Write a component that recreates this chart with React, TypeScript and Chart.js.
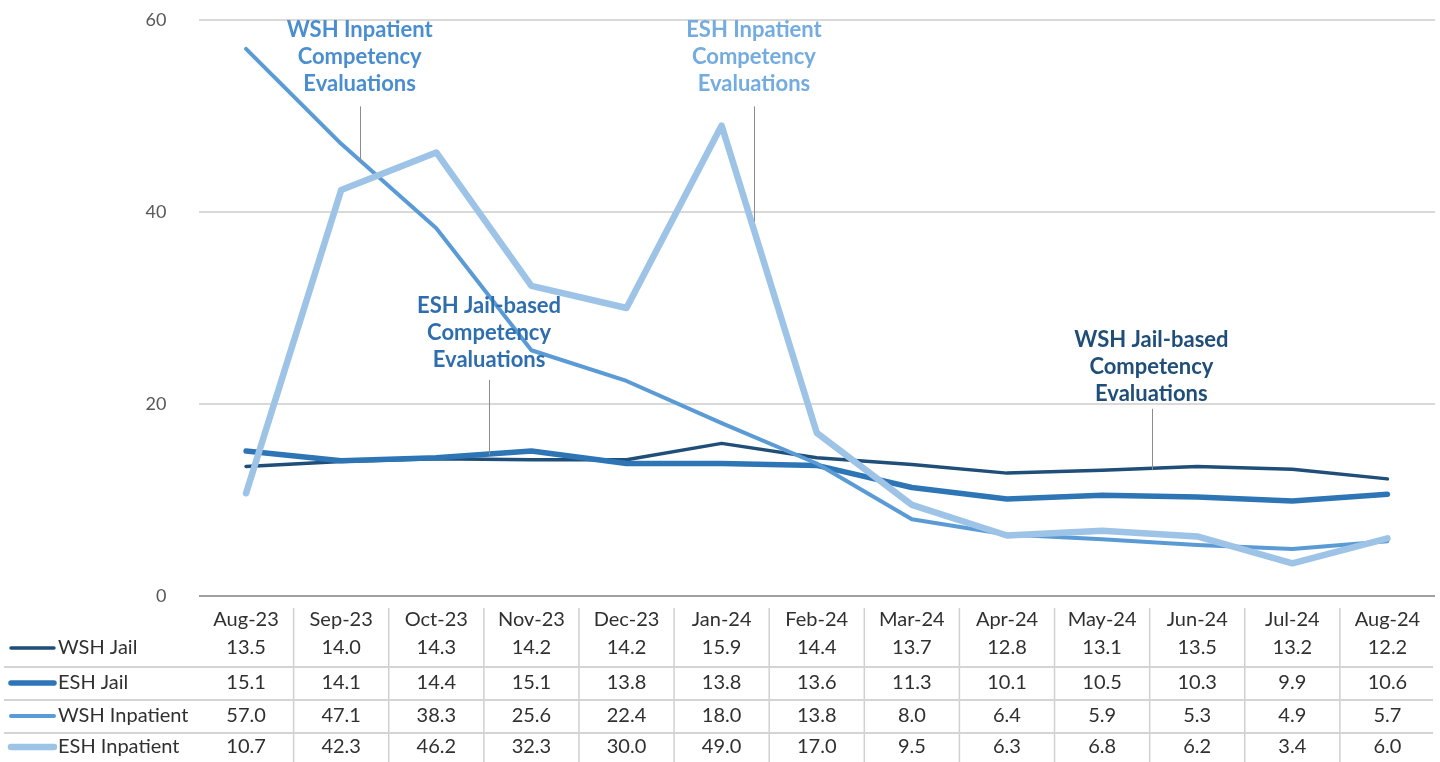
import React, { useEffect, useRef } from "react";
import { Chart, registerables } from "chart.js";

Chart.register(...registerables);

const categories = ["Aug-23", "Sep-23", "Oct-23", "Nov-23", "Dec-23", "Jan-24", "Feb-24", "Mar-24", "Apr-24", "May-24", "Jun-24", "Jul-24", "Aug-24"];
const wshJail = [13.5, 14.0, 14.3, 14.2, 14.2, 15.9, 14.4, 13.7, 12.8, 13.1, 13.5, 13.2, 12.2];
const eshJail = [15.1, 14.1, 14.4, 15.1, 13.8, 13.8, 13.6, 11.3, 10.1, 10.5, 10.3, 9.9, 10.6];
const wshInpatient = [57.0, 47.1, 38.3, 25.6, 22.4, 18.0, 13.8, 8.0, 6.4, 5.9, 5.3, 4.9, 5.7];
const eshInpatient = [10.7, 42.3, 46.2, 32.3, 30.0, 49.0, 17.0, 9.5, 6.3, 6.8, 6.2, 3.4, 6.0];
const seriesNames = ["WSH Jail", "ESH Jail", "WSH Inpatient", "ESH Inpatient"];
const seriesColors = ["#1F4E79", "#2E75B6", "#5B9BD5", "#9DC3E6"];
const seriesWidths = [3.5, 5.5, 4, 6.5];
const yTicks = [0, 20, 40, 60];

// callouts: text lines, center (category index), first baseline (value), leader from/to (value)
const calloutTexts = [
  ["WSH Inpatient", "Competency", "Evaluations"],
  ["ESH Inpatient", "Competency", "Evaluations"],
  ["ESH Jail-based", "Competency", "Evaluations"],
  ["WSH Jail-based", "Competency", "Evaluations"],
];
const calloutColors = ["#4A8ED0", "#74ACDF", "#2E6EAE", "#1F4E79"];
const calloutX = [1.194, 5.34, 2.555, 9.518];
const calloutLeaderX = [1.2, 5.34, 2.555, 9.52];
const calloutBaseline = [58.18, 58.18, 29.48, 25.94];
const calloutLeaderFrom = [51.0, 51.0, 22.5, 19.5];
const calloutLeaderTo = [45.2, 39.0, 14.7, 13.1];

const FONT = "Lato, 'Open Sans', sans-serif";

const tablePlugin = {
  id: "dataTable",
  afterDraw(chart: any) {
    const ctx = chart.ctx;
    const xs = chart.scales.x;
    const area = chart.chartArea;
    const b = area.bottom;
    ctx.save();
    ctx.strokeStyle = "#D0D0D0";
    ctx.lineWidth = 1.5;
    for (let i = 0; i < categories.length - 1; i++) {
      const x = (xs.getPixelForValue(i) + xs.getPixelForValue(i + 1)) / 2;
      ctx.beginPath();
      ctx.moveTo(x, b + 12);
      ctx.lineTo(x, chart.height);
      ctx.stroke();
    }
    const seps = [b + 71, b + 104, b + 137];
    ctx.strokeStyle = "#D4D4D4";
    ctx.lineWidth = 2;
    seps.forEach((y) => {
      ctx.beginPath();
      ctx.moveTo(4, y);
      ctx.lineTo(area.right - 2, y);
      ctx.stroke();
    });
    ctx.font = `20px ${FONT}`;
    ctx.fillStyle = "#303030";
    ctx.textAlign = "center";
    ctx.textBaseline = "middle";
    categories.forEach((c, i) => {
      ctx.fillText(c, xs.getPixelForValue(i), b + 24);
    });
    const rows = [wshJail, eshJail, wshInpatient, eshInpatient];
    const rowY = [b + 52, b + 87, b + 120, b + 151];
    rows.forEach((vals, r) => {
      const y = rowY[r];
      ctx.strokeStyle = seriesColors[r];
      ctx.lineWidth = seriesWidths[r];
      ctx.lineCap = "round";
      ctx.beginPath();
      ctx.moveTo(11, y);
      ctx.lineTo(54, y);
      ctx.stroke();
      ctx.fillStyle = "#303030";
      ctx.textAlign = "left";
      ctx.fillText(seriesNames[r], 58, y);
      ctx.textAlign = "center";
      vals.forEach((v, i) => {
        ctx.fillText(v.toFixed(1), xs.getPixelForValue(i), y);
      });
    });
    ctx.restore();
  },
};

const calloutPlugin = {
  id: "callouts",
  afterDatasetsDraw(chart: any) {
    const ctx = chart.ctx;
    const xs = chart.scales.x;
    const ys = chart.scales.y;
    ctx.save();
    calloutTexts.forEach((lines, k) => {
      const cx = xs.getPixelForValue(calloutX[k]);
      const by = ys.getPixelForValue(calloutBaseline[k]);
      ctx.font = `bold 22px ${FONT}`;
      ctx.fillStyle = calloutColors[k];
      ctx.textAlign = "center";
      ctx.textBaseline = "alphabetic";
      lines.forEach((t, j) => ctx.fillText(t, cx, by + j * 27));
      const lx = Math.round(xs.getPixelForValue(calloutLeaderX[k])) + 0.5;
      ctx.strokeStyle = "#8C8C8C";
      ctx.lineWidth = 1;
      ctx.beginPath();
      ctx.moveTo(lx, ys.getPixelForValue(calloutLeaderFrom[k]));
      ctx.lineTo(lx, ys.getPixelForValue(calloutLeaderTo[k]));
      ctx.stroke();
    });
    ctx.restore();
  },
};

export default function App() {
  const ref = useRef<HTMLCanvasElement | null>(null);
  useEffect(() => {
    if (!ref.current) return;
    const series = [wshJail, eshJail, wshInpatient, eshInpatient];
    const chart = new Chart(ref.current, {
      type: "line",
      data: {
        labels: categories,
        datasets: series.map((d, i) => ({
          label: seriesNames[i],
          data: d,
          borderColor: seriesColors[i],
          backgroundColor: seriesColors[i],
          borderWidth: seriesWidths[i],
          pointRadius: 0,
          tension: 0,
          borderCapStyle: "round" as const,
          borderJoinStyle: "round" as const,
          order: 4 - i,
          clip: false as any,
        })),
      },
      options: {
        animation: false,
        responsive: false,
        layout: { padding: { top: 20, bottom: 166, right: 5, left: 0 } },
        plugins: { legend: { display: false }, tooltip: { enabled: false } },
        scales: {
          x: { display: false, offset: true },
          y: {
            min: 0,
            max: 60,
            afterBuildTicks: (s: any) => {
              s.ticks = yTicks.map((v) => ({ value: v }));
            },
            afterFit: (s: any) => {
              s.width = 198.5;
              s.paddingTop = 0;
              s.paddingBottom = 0;
            },
            border: { display: false },
            grid: {
              drawTicks: false,
              color: (c: any) => (c.tick && c.tick.value === 0 ? "#A0A0A0" : "#D9D9D9"),
              lineWidth: 2,
            },
            ticks: {
              padding: 32,
              color: "#595959",
              font: { family: FONT, size: 18 },
            },
          },
        },
      },
      plugins: [tablePlugin, calloutPlugin],
    });
    return () => chart.destroy();
  }, []);
  return (
    <div style={{ position: "fixed", left: 0, top: 0, width: 1440, height: 762, background: "#fff" }}>
      <canvas ref={ref} width={1440} height={762} style={{ display: "block" }} />
    </div>
  );
}
